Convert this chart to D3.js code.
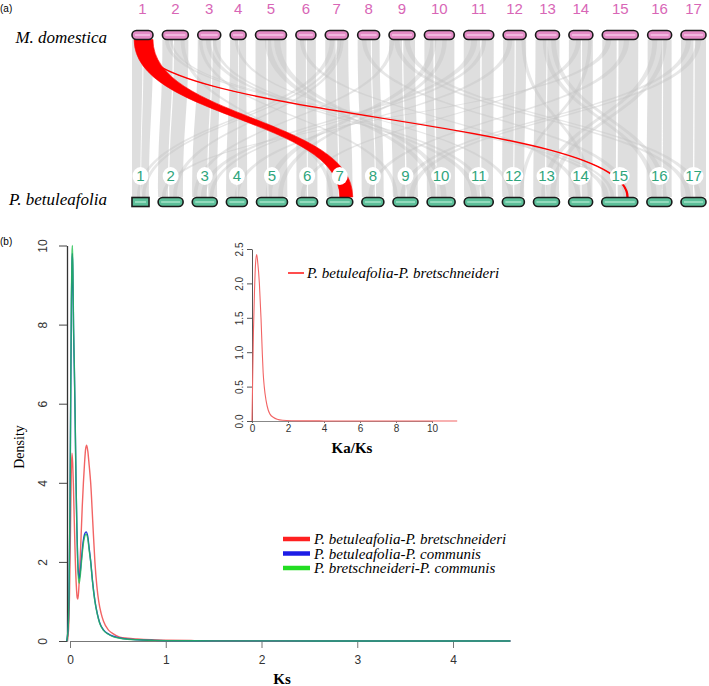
<!DOCTYPE html>
<html>
  <head>
    <meta charset="utf-8">
    <script src="https://d3js.org/d3.v7.min.js"></script>
    <title></title>
    <style>
    body {
      margin: 0;
      background-color: #fff;
    }
    svg {
      display: block;
    }
    .tick text {
      font-family: "Liberation Sans", Arial, sans-serif;
      fill: #333;
    }
    </style>
  </head>
  <body>
    <script type="text/javascript">
      // ---- panel (a) data ----
      let chrLabels = ['1','2','3','4','5','6','7','8','9','10','11','12','13','14','15','16','17']
      // relative chromosome lengths
      let mdLen = [21, 26, 23, 16, 31, 20, 23, 22, 26, 30, 30, 23, 24, 24, 36, 24, 25]
      let pbLen = [17, 25, 25, 21, 31, 21, 26, 22, 25, 28, 29, 22, 26, 24, 36, 25, 25]
      // collinear blocks: [M.d chr, start, end, P.b chr, start, end] (fraction of chromosome)
      let mainLinks = [
        [1,0,0.5,1,0,0.5],[1,0.55,1,1,0.55,1],
        [2,0,0.4,2,0,0.4],[2,0.45,1,2,0.45,1],
        [3,0,0.6,3,0,0.6],[3,0.65,1,3,0.65,1],
        [4,0,0.5,4,0,0.5],[4,0.55,1,4,0.55,1],
        [5,0,0.35,5,0,0.35],[5,0.4,1,5,0.4,1],
        [6,0,0.5,6,0,0.5],[6,0.55,1,6,0.55,1],
        [7,0,0.45,7,0,0.45],[7,0.5,1,7,0.5,1],
        [8,0,0.6,8,0,0.6],[8,0.65,1,8,0.65,1],
        [9,0,0.5,9,0,0.5],[9,0.55,1,9,0.55,1],
        [10,0,0.3,10,0,0.3],[10,0.35,1,10,0.35,1],
        [11,0,0.55,11,0,0.55],[11,0.6,1,11,0.6,1],
        [12,0,0.5,12,0,0.5],[12,0.55,1,12,0.55,1],
        [13,0,0.45,13,0,0.45],[13,0.5,1,13,0.5,1],
        [14,0,0.5,14,0,0.5],[14,0.55,1,14,0.55,1],
        [15,0,0.4,15,0,0.4],[15,0.45,1,15,0.45,1],
        [16,0,0.6,16,0,0.6],[16,0.65,1,16,0.65,1],
        [17,0,0.5,17,0,0.5],[17,0.55,1,17,0.55,1]
      ]
      // homoeologous (WGD) blocks
      let crossLinks = [
        [7,0.2,0.4,1,0.3,0.5],[7,0.55,0.7,1,0.6,0.8],
        [2,0.7,0.85,7,0.1,0.25],
        [7,0.65,0.8,2,0.6,0.75],
        [2,0.1,0.25,15,0.05,0.2],[2,0.3,0.4,15,0.25,0.35],
        [15,0.1,0.25,2,0.15,0.3],
        [3,0.35,0.55,11,0.25,0.45],[3,0.65,0.8,11,0.6,0.75],
        [11,0.25,0.45,3,0.35,0.55],[11,0.6,0.75,3,0.7,0.85],
        [4,0.3,0.5,12,0.3,0.5],
        [12,0.2,0.4,4,0.4,0.6],
        [5,0.3,0.5,10,0.15,0.35],[5,0.6,0.8,10,0.5,0.7],
        [10,0.2,0.4,5,0.3,0.5],[10,0.6,0.75,5,0.7,0.85],
        [6,0.2,0.4,14,0.3,0.5],
        [14,0.3,0.5,6,0.2,0.4],
        [8,0.2,0.4,15,0.6,0.75],
        [15,0.6,0.75,8,0.3,0.5],
        [9,0.2,0.4,17,0.2,0.4],[9,0.6,0.8,17,0.6,0.8],
        [17,0.2,0.4,9,0.3,0.5],[17,0.6,0.8,9,0.65,0.85],
        [13,0.3,0.5,16,0.2,0.4],[13,0.65,0.85,16,0.6,0.8],
        [16,0.2,0.4,13,0.3,0.5],[16,0.6,0.8,13,0.65,0.85],
        [12,0.8,0.95,14,0.8,0.95],
        [14,0.8,0.95,12,0.8,0.95],
        [3,0.05,0.2,9,0.05,0.2],
        [9,0.05,0.2,3,0.05,0.2]
      ]
      let redLinks = [
        [1,0.1,1,7,0.5,1],
        [1,0.22,0.25,15,0.7,0.73]
      ]

      // ---- panel (b) data: [Ks, density] ----
      let ksRed = [[-0.03,0],[-0.015,0.3],[-0.005,1.2],[0.005,2.8],[0.013,4.2],[0.021,4.75],[0.028,4.5],[0.035,4.0],[0.045,3.0],[0.056,2.0],[0.066,1.4],[0.075,1.1],[0.082,1.06],[0.09,1.25],[0.098,1.6],[0.105,2.0],[0.115,2.6],[0.128,3.4],[0.14,4.0],[0.152,4.5],[0.163,4.85],[0.174,4.95],[0.186,4.8],[0.2,4.45],[0.216,4.0],[0.238,3.0],[0.26,2.0],[0.28,1.4],[0.3,1.0],[0.325,0.7],[0.35,0.5],[0.4,0.28],[0.44,0.2],[0.52,0.1],[0.6,0.07],[0.7,0.05],[0.85,0.03],[1.0,0.02],[1.3,0.01],[1.7,0.005],[2.2,0.003],[3,0.001],[4,0],[4.6,0]]
      let ksBlue = [[-0.035,0],[-0.02,0.3],[-0.01,1.2],[0,3.4],[0.008,6.3],[0.015,8.6],[0.021,9.6],[0.025,9.8],[0.03,9.3],[0.037,7.9],[0.045,6.9],[0.052,5.9],[0.063,4.0],[0.072,2.85],[0.08,2.1],[0.088,1.7],[0.096,1.58],[0.105,1.7],[0.12,2.08],[0.137,2.5],[0.152,2.7],[0.168,2.76],[0.185,2.65],[0.2,2.35],[0.216,2.02],[0.235,1.52],[0.26,1.02],[0.285,0.69],[0.31,0.46],[0.35,0.28],[0.4,0.18],[0.45,0.12],[0.52,0.075],[0.6,0.048],[0.7,0.03],[0.85,0.018],[1.0,0.01],[1.3,0.005],[1.7,0.003],[2.2,0.002],[3,0.001],[4,0],[4.6,0]]
      let ksGreen = [[-0.035,0],[-0.02,0.3],[-0.01,1.2],[0,3.5],[0.008,6.5],[0.015,8.8],[0.021,9.8],[0.025,10.0],[0.03,9.5],[0.037,8.0],[0.045,7.0],[0.052,6.0],[0.063,4.0],[0.072,2.8],[0.08,2.0],[0.088,1.6],[0.096,1.46],[0.105,1.6],[0.12,2.0],[0.137,2.42],[0.152,2.63],[0.168,2.7],[0.185,2.6],[0.2,2.3],[0.216,2.0],[0.235,1.5],[0.26,1.0],[0.285,0.68],[0.31,0.45],[0.35,0.27],[0.4,0.17],[0.45,0.11],[0.52,0.07],[0.6,0.045],[0.7,0.03],[0.85,0.018],[1.0,0.01],[1.3,0.005],[1.7,0.003],[2.2,0.002],[3,0.001],[4,0],[4.6,0]]
      let kaksRed = [[0,0],[0.03,0.5],[0.08,1.3],[0.14,1.9],[0.2,2.3],[0.26,2.42],[0.32,2.3],[0.41,2.0],[0.5,1.5],[0.57,1.0],[0.62,0.7],[0.68,0.5],[0.78,0.3],[0.9,0.16],[1.0,0.1],[1.2,0.05],[1.4,0.025],[1.7,0.01],[2.2,0.004],[3,0.002],[4,0.001],[6,0],[11.4,0]]
      let ksTicks = [0, 1, 2, 3, 4]
      let densTicks = [0, 2, 4, 6, 8, 10]
      let kaksTicks = [0, 2, 4, 6, 8, 10]
      let insetTicks = [0, 0.5, 1.0, 1.5, 2.0, 2.5]
      let pairNames = ['P. betuleafolia-P. bretschneideri', 'P. betuleafolia-P. communis', 'P. bretschneideri-P. communis']
      let pairColors = ['#ff2020', '#1c1ce6', '#22dd22']

      let w = 709
      let h = 686
      let svg = d3.select('body')
                  .append('svg')
                  .attr('width', w)
                  .attr('height', h)

      // ================= panel (a) =================
      function layout(lens, gap) {
        let total = d3.sum(lens) + gap * (lens.length - 1)
        let s = d3.scaleLinear().domain([0, total]).range([132, 706])
        let acc = 0
        return lens.map(l => {
          let o = { x0: s(acc), x1: s(acc + l) }
          acc += l + gap
          return o
        })
      }
      let mdPos = layout(mdLen, 9.4)
      let pbPos = layout(pbLen, 9.1)
      let yTop = 39.5
      let yBot = 197
      let yMid = (yTop + yBot) / 2

      function fx(pos, chr, f) {
        let p = pos[chr - 1]
        return p.x0 + (p.x1 - p.x0) * f
      }
      function ribbon(d) {
        let a0 = fx(mdPos, d[0], d[1]), a1 = fx(mdPos, d[0], d[2])
        let b0 = fx(pbPos, d[3], d[4]), b1 = fx(pbPos, d[3], d[5])
        return `M${a0},${yTop} C${a0},${yMid} ${b0},${yMid} ${b0},${yBot}` +
               ` L${b1},${yBot} C${b1},${yMid} ${a1},${yMid} ${a1},${yTop} Z`
      }

      svg.append('g')
         .selectAll('path')
         .data(mainLinks)
         .enter()
         .append('path')
         .attr('d', ribbon)
         .attr('fill', '#c8c8c8')
         .attr('fill-opacity', 0.6)

      svg.append('g')
         .selectAll('path')
         .data(crossLinks)
         .enter()
         .append('path')
         .attr('d', ribbon)
         .attr('fill', '#c4c4c4')
         .attr('fill-opacity', 0.4)

      svg.append('g')
         .selectAll('path')
         .data(redLinks)
         .enter()
         .append('path')
         .attr('d', ribbon)
         .attr('fill', '#ff0000')
         .attr('stroke', '#ff0000')
         .attr('stroke-width', (d, i) => i === 0 ? 0.6 : 1.2)

      // chromosome labels
      svg.append('g')
         .selectAll('text')
         .data(mdPos)
         .enter()
         .append('text')
         .attr('x', d => (d.x0 + d.x1) / 2)
         .attr('y', 14)
         .attr('text-anchor', 'middle')
         .style('font-family', '"Liberation Sans", Arial, sans-serif')
         .style('font-size', '15px')
         .style('fill', '#d866b6')
         .text((d, i) => chrLabels[i])

      let pbLab = svg.append('g')
      pbLab.selectAll('ellipse')
           .data(pbPos)
           .enter()
           .append('ellipse')
           .attr('cx', d => (d.x0 + d.x1) / 2)
           .attr('cy', 176)
           .attr('rx', (d, i) => chrLabels[i].length > 1 ? 10 : 8)
           .attr('ry', 9)
           .attr('fill', '#fff')
      pbLab.selectAll('text')
           .data(pbPos)
           .enter()
           .append('text')
           .attr('x', d => (d.x0 + d.x1) / 2)
           .attr('y', 181)
           .attr('text-anchor', 'middle')
           .style('font-family', '"Liberation Sans", Arial, sans-serif')
           .style('font-size', '15px')
           .style('fill', '#2fa57c')
           .text((d, i) => chrLabels[i])

      // chromosome boxes
      function boxes(pos, y, fill, stripe, squareFirst) {
        let g = svg.append('g')
        g.selectAll('rect')
         .data(pos)
         .enter()
         .append('rect')
         .attr('x', d => d.x0)
         .attr('y', y)
         .attr('width', d => d.x1 - d.x0)
         .attr('height', 9)
         .attr('rx', (d, i) => squareFirst && i === 0 ? 0 : 4.5)
         .attr('fill', fill)
         .attr('stroke', '#1a1a1a')
         .attr('stroke-width', 1.6)
        g.selectAll('line')
         .data(pos)
         .enter()
         .append('line')
         .attr('x1', d => d.x0 + 3)
         .attr('x2', d => d.x1 - 3)
         .attr('y1', y + 4.5)
         .attr('y2', y + 4.5)
         .attr('stroke', stripe)
         .attr('stroke-width', 1.5)
      }
      boxes(mdPos, 30.5, '#e48cc6', '#f6c6e6', false)
      boxes(pbPos, 197.5, '#5cbf99', '#a6e3c9', true)

      let serif = '"Liberation Serif", "Times New Roman", serif'
      svg.append('text')
         .attr('x', 107).attr('y', 43)
         .attr('text-anchor', 'end')
         .style('font-family', serif).style('font-style', 'italic').style('font-size', '17px')
         .text('M. domestica')
      svg.append('text')
         .attr('x', 107).attr('y', 205)
         .attr('text-anchor', 'end')
         .style('font-family', serif).style('font-style', 'italic').style('font-size', '17px')
         .text('P. betuleafolia')
      svg.append('text')
         .attr('x', 0).attr('y', 12)
         .style('font-family', '"Liberation Sans", Arial, sans-serif').style('font-size', '10px')
         .text('(a)')
      svg.append('text')
         .attr('x', 0).attr('y', 245)
         .style('font-family', '"Liberation Sans", Arial, sans-serif').style('font-size', '10px')
         .text('(b)')

      // ================= panel (b) =================
      let xScale = d3.scaleLinear().domain([0, 4]).range([70, 453])
      let yScale = d3.scaleLinear().domain([0, 10]).range([641, 245.5])

      let xAxis = svg.append('g')
                     .attr('transform', 'translate(0, 641)')
                     .call(d3.axisBottom(xScale).tickValues(ksTicks).tickSize(7).tickSizeOuter(0).tickFormat(d3.format('d')))
      xAxis.select('.domain').attr('stroke', '#777')
      xAxis.selectAll('.tick line').attr('stroke', '#777')
      xAxis.selectAll('.tick text').attr('y', 14).style('font-size', '12px')

      let yAxis = svg.append('g')
                     .attr('transform', 'translate(67, 0)')
                     .call(d3.axisLeft(yScale).tickValues(densTicks).tickSize(8).tickSizeOuter(0).tickFormat(d3.format('d')))
      yAxis.select('.domain').attr('stroke', '#333').attr('stroke-width', 1.3)
      yAxis.selectAll('.tick line').attr('stroke', '#444')
      yAxis.selectAll('.tick text')
           .attr('x', 0).attr('y', -20).attr('dy', 0)
           .attr('transform', 'rotate(-90)')
           .attr('text-anchor', 'middle')
           .style('font-size', '12px')

      let valueline = d3.line()
                        .x(d => xScale(d[0]))
                        .y(d => yScale(d[1]))
                        .curve(d3.curveMonotoneX)
      svg.append('path').datum(ksRed).attr('d', valueline)
         .attr('fill', 'none').attr('stroke', '#f26464').attr('stroke-width', 1.4)
      svg.append('path').datum(ksBlue).attr('d', valueline)
         .attr('fill', 'none').attr('stroke', '#2233dd').attr('stroke-width', 1.4)
      svg.append('path').datum(ksGreen).attr('d', valueline)
         .attr('fill', 'none').attr('stroke', '#22c050').attr('stroke-width', 1.4).attr('stroke-opacity', 0.8)

      svg.append('text')
         .attr('transform', 'translate(24, 447) rotate(-90)')
         .attr('text-anchor', 'middle')
         .style('font-family', serif).style('font-size', '14px')
         .text('Density')
      svg.append('text')
         .attr('x', 282).attr('y', 684)
         .attr('text-anchor', 'middle')
         .style('font-family', serif).style('font-size', '15px').style('font-weight', 'bold')
         .text('Ks')

      // legend
      let legend = svg.append('g')
      legend.selectAll('line')
            .data(pairNames)
            .enter()
            .append('line')
            .attr('x1', 283).attr('x2', 310)
            .attr('y1', (d, i) => 539 + i * 14.5)
            .attr('y2', (d, i) => 539 + i * 14.5)
            .attr('stroke', (d, i) => pairColors[i])
            .attr('stroke-width', 4.5)
      legend.selectAll('text')
            .data(pairNames)
            .enter()
            .append('text')
            .attr('x', 314)
            .attr('y', (d, i) => 544 + i * 14.5)
            .style('font-family', serif).style('font-style', 'italic').style('font-size', '15px')
            .text(d => d)

      // ---- inset ----
      let xi = d3.scaleLinear().domain([0, 10]).range([252, 432])
      let yi = d3.scaleLinear().domain([0, 2.5]).range([421, 249])

      let xiAxis = svg.append('g')
                      .attr('transform', 'translate(0, 421)')
                      .call(d3.axisBottom(xi).tickValues(kaksTicks).tickSize(2).tickSizeOuter(0).tickFormat(d3.format('d')))
      xiAxis.select('.domain').attr('stroke', '#888')
      xiAxis.selectAll('.tick line').attr('stroke', '#777')
      xiAxis.selectAll('.tick text').attr('y', 4).attr('dy', '0.71em').style('font-size', '10px')

      let yiAxis = svg.append('g')
                      .attr('transform', 'translate(252, 0)')
                      .call(d3.axisLeft(yi).tickValues(insetTicks).tickSize(5).tickSizeOuter(0).tickFormat(d3.format('.1f')))
      yiAxis.select('.domain').attr('stroke', '#555')
      yiAxis.selectAll('.tick line').attr('stroke', '#555')
      yiAxis.selectAll('.tick text')
            .attr('x', 0).attr('y', -9).attr('dy', 0)
            .attr('transform', 'rotate(-90)')
            .attr('text-anchor', 'middle')
            .style('font-size', '10px')

      let insetline = d3.line()
                        .x(d => xi(d[0]))
                        .y(d => yi(d[1]))
                        .curve(d3.curveMonotoneX)
      svg.append('path').datum(kaksRed).attr('d', insetline)
         .attr('fill', 'none').attr('stroke', '#f26464').attr('stroke-width', 1.1)

      svg.append('line')
         .attr('x1', 288).attr('x2', 304).attr('y1', 273).attr('y2', 273)
         .attr('stroke', '#ff2020').attr('stroke-width', 1.6)
      svg.append('text')
         .attr('x', 307).attr('y', 278)
         .style('font-family', serif).style('font-style', 'italic').style('font-size', '15px')
         .text(pairNames[0])
      svg.append('text')
         .attr('x', 352).attr('y', 453)
         .attr('text-anchor', 'middle')
         .style('font-family', serif).style('font-size', '15px').style('font-weight', 'bold')
         .text('Ka/Ks')
    </script>
  </body>
</html>
